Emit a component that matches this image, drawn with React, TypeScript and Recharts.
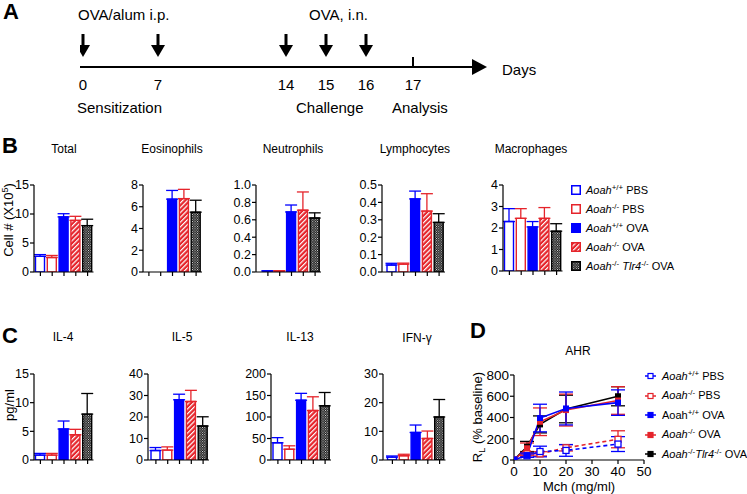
import React from 'react';
import {
  BarChart, Bar, XAxis, YAxis, Cell, ErrorBar,
  LineChart, Line, ScatterChart, Scatter,
} from 'recharts';

const FONT = '"Liberation Sans", Arial, Helvetica, sans-serif';
const BLUE = '#0000ff';
const RED = '#e5242b';
const INK = '#000000';

// ---------------- Panel A : protocol timeline ----------------
const TIMELINE_TICKS = [0, 7, 14, 15, 16, 17];
const INJECTION_DAYS = [0, 7, 14, 15, 16];
const ANALYSIS_DAYS = [17];

// ---------------- groups ----------------
const GROUP_KEYS = ['wtPBS', 'koPBS', 'wtOVA', 'koOVA', 'dkoOVA'];

// ---------------- Panel B : BAL cells (x10^5) ----------------
const TOTAL = [2.7, 2.5, 9.5, 8.9, 8.0];
const TOTAL_SEM = [0.3, 0.35, 0.55, 0.7, 1.1];
const EOS = [0, 0, 6.7, 6.75, 5.5];
const EOS_SEM = [0, 0, 0.8, 0.85, 1.1];
const NEUT = [0.01, 0.01, 0.69, 0.71, 0.62];
const NEUT_SEM = [0.004, 0.004, 0.08, 0.21, 0.06];
const LYMPH = [0.04, 0.045, 0.42, 0.35, 0.285];
const LYMPH_SEM = [0.01, 0.006, 0.045, 0.1, 0.05];
const MACRO = [2.3, 2.45, 2.05, 2.45, 1.85];
const MACRO_SEM = [0.6, 0.45, 0.25, 0.5, 0.35];

// ---------------- Panel C : cytokines (pg/ml) ----------------
const IL4 = [0.85, 0.85, 5.4, 4.4, 8.0];
const IL4_SEM = [0.3, 0.3, 1.4, 0.95, 3.6];
const IL5 = [4.4, 4.6, 28, 27.2, 15.8];
const IL5_SEM = [1.4, 1.5, 2.6, 5.2, 4.3];
const IL13 = [40, 25, 139, 115, 126];
const IL13_SEM = [12, 8, 16, 32, 31];
const IFNG = [1.0, 1.5, 9.6, 7.5, 15];
const IFNG_SEM = [0.4, 0.5, 2.6, 2.6, 6.1];

// ---------------- Panel D : AHR ----------------
const MCH_DOSES = [0, 5, 10, 20, 40];
const AHR_WT_PBS = [0, 40, 80, 90, 150];
const AHR_WT_PBS_SEM = [0, 15, 50, 55, 70];
const AHR_KO_PBS = [0, 60, 58, 115, 195];
const AHR_KO_PBS_SEM = [0, 20, 20, 30, 80];
const AHR_WT_OVA = [0, 45, 395, 485, 540];
const AHR_WT_OVA_SEM = [0, 20, 130, 155, 120];
const AHR_KO_OVA = [0, 110, 360, 470, 560];
const AHR_KO_OVA_SEM = [0, 50, 130, 150, 130];
const AHR_DKO_OVA = [0, 125, 335, 480, 600];
const AHR_DKO_OVA_SEM = [0, 50, 80, 130, 90];

// ---------------- styles ----------------
const GROUP_FILL = ['#ffffff', '#ffffff', BLUE, 'url(#hatchRed)', 'url(#checker)'];
const GROUP_STROKE = [BLUE, RED, BLUE, RED, INK];

type Seg = { t: string; it?: boolean; sup?: boolean };
const B_LEGEND: Seg[][] = [
  [{ t: 'Aoah', it: true }, { t: '+/+', sup: true }, { t: ' PBS' }],
  [{ t: 'Aoah', it: true }, { t: '-/-', sup: true }, { t: ' PBS' }],
  [{ t: 'Aoah', it: true }, { t: '+/+', sup: true }, { t: ' OVA' }],
  [{ t: 'Aoah', it: true }, { t: '-/-', sup: true }, { t: ' OVA' }],
  [{ t: 'Aoah', it: true }, { t: '-/-', sup: true }, { t: ' ' }, { t: 'Tlr4', it: true }, { t: '-/-', sup: true }, { t: ' OVA' }],
];
const D_LEGEND: Seg[][] = [
  [{ t: 'Aoah', it: true }, { t: '+/+', sup: true }, { t: ' PBS' }],
  [{ t: 'Aoah', it: true }, { t: '-/-', sup: true }, { t: ' PBS' }],
  [{ t: 'Aoah' }, { t: '+/+', sup: true }, { t: ' OVA' }],
  [{ t: 'Aoah', it: true }, { t: '-/-', sup: true }, { t: ' OVA' }],
  [{ t: 'Aoah', it: true }, { t: '-/-', sup: true }, { t: 'Tlr4', it: true }, { t: '-/-', sup: true }, { t: ' OVA' }],
];

const AHR_SERIES = [
  { key: 'wtPBS', values: AHR_WT_PBS, sem: AHR_WT_PBS_SEM, color: BLUE, dashed: true, open: true },
  { key: 'koPBS', values: AHR_KO_PBS, sem: AHR_KO_PBS_SEM, color: RED, dashed: true, open: true },
  { key: 'wtOVA', values: AHR_WT_OVA, sem: AHR_WT_OVA_SEM, color: BLUE, dashed: false, open: false },
  { key: 'koOVA', values: AHR_KO_OVA, sem: AHR_KO_OVA_SEM, color: RED, dashed: false, open: false },
  { key: 'dkoOVA', values: AHR_DKO_OVA, sem: AHR_DKO_OVA_SEM, color: INK, dashed: false, open: false },
];
const AHR_DRAW_ORDER = [1, 0, 4, 3, 2];

// ---------------- timeline scale (schematic, non-uniform spacing) ----------------
const TIMELINE_LAYOUT: [number, number][] = [
  [-0.3, 0], [0, 3], [7, 78], [14, 206], [15, 246], [16, 286], [17, 333], [18.9, 392],
];

function createTimelineScale(): any {
  let domain: number[] = [TIMELINE_LAYOUT[0][0], TIMELINE_LAYOUT[TIMELINE_LAYOUT.length - 1][0]];
  let range: number[] = [0, 1];
  const total = TIMELINE_LAYOUT[TIMELINE_LAYOUT.length - 1][1];
  const frac = (v: number) => {
    const L = TIMELINE_LAYOUT;
    if (v <= L[0][0]) return 0;
    if (v >= L[L.length - 1][0]) return 1;
    for (let i = 0; i < L.length - 1; i++) {
      const [d0, p0] = L[i];
      const [d1, p1] = L[i + 1];
      if (v >= d0 && v <= d1) return (p0 + ((v - d0) / (d1 - d0)) * (p1 - p0)) / total;
    }
    return 1;
  };
  const scale: any = (v: any) => range[0] + frac(Number(v)) * (range[1] - range[0]);
  scale.domain = (d?: any) => {
    if (d === undefined) return domain.slice();
    domain = Array.from(d);
    return scale;
  };
  scale.range = (r?: any) => {
    if (r === undefined) return range.slice();
    range = Array.from(r);
    return scale;
  };
  scale.copy = () => createTimelineScale().domain(domain).range(range);
  scale.ticks = () => TIMELINE_TICKS.slice();
  scale.tickFormat = () => (v: any) => String(v);
  scale.nice = () => scale;
  scale.clamp = () => scale;
  scale.invert = (px: number) => {
    const f = (px - range[0]) / (range[1] - range[0] || 1);
    return domain[0] + f * (domain[1] - domain[0]);
  };
  return scale;
}

// ---------------- helpers ----------------
function Rich({ segs }: { segs: Seg[] }) {
  return (
    <>
      {segs.map((s, i) =>
        s.sup ? (
          <span key={i} style={{ fontSize: '0.72em', position: 'relative', top: '-0.5em', fontStyle: 'normal' }}>{s.t}</span>
        ) : (
          <span key={i} style={{ fontStyle: s.it ? 'italic' : 'normal', whiteSpace: 'pre' }}>{s.t}</span>
        ),
      )}
    </>
  );
}

function Txt({ x, capTop, size, children, anchor, bold }: any) {
  return (
    <div
      style={{
        position: 'absolute', left: x, top: capTop - 0.13 * size, fontSize: size,
        lineHeight: `${size}px`, fontWeight: bold ? 'bold' : 'normal', whiteSpace: 'nowrap',
        transform: anchor === 'middle' ? 'translateX(-50%)' : undefined,
      }}
    >
      {children}
    </div>
  );
}

function VTxt({ cx, cy, size, children }: any) {
  return (
    <div
      style={{
        position: 'absolute', left: cx, top: cy, fontSize: size, lineHeight: `${size}px`,
        whiteSpace: 'nowrap', transform: 'translate(-50%, -50%) rotate(-90deg)',
      }}
    >
      {children}
    </div>
  );
}

const BAND = 11.8;
const YW = 30;
const MT = 7;
const XH = 9;

function BarPanel({ axisX, bandStart, top, plotH, values, sems, ticks, digits }: any) {
  const pad = bandStart - axisX;
  const plotW = pad + BAND * values.length;
  const data = values.map((v: number, i: number) => {
    const row: any = { group: GROUP_KEYS[i], value: v };
    if (sems[i] > 0) row['e' + i] = [0, sems[i]];
    return row;
  });
  const width = YW + plotW + 4;
  const height = MT + plotH + XH;
  const axisStyle = { stroke: INK, strokeWidth: 1.2 };
  return (
    <div style={{ position: 'absolute', left: axisX - YW, top: top - MT }}>
      <BarChart width={width} height={height} data={data} margin={{ top: MT, right: 4, bottom: 0, left: 0 }}>
        <XAxis
          dataKey="group" padding={{ left: pad, right: 0 }} tickSize={4} height={XH}
          tickFormatter={() => ''} interval={0} axisLine={axisStyle} tickLine={axisStyle}
        />
        <YAxis
          width={YW} type="number" domain={[ticks[0], ticks[ticks.length - 1]]} ticks={ticks} interval={0}
          allowDataOverflow tickSize={4} tickMargin={1} axisLine={axisStyle} tickLine={axisStyle}
          tick={{ fontSize: 12.5, fill: INK, fontFamily: FONT }}
          tickFormatter={(v: any) => Number(v).toFixed(digits)}
        />
        <Bar dataKey="value" barSize={9} isAnimationActive={false}>
          {values.map((_: number, i: number) => (
            <Cell key={'c' + i} fill={GROUP_FILL[i]} stroke={GROUP_STROKE[i]} strokeWidth={1.4} />
          ))}
          {values.map((_: number, i: number) => (
            <ErrorBar
              key={'e' + i} dataKey={'e' + i} direction="y" width={6}
              stroke={GROUP_STROKE[i]} strokeWidth={1.3} isAnimationActive={false}
            />
          ))}
        </Bar>
      </BarChart>
    </div>
  );
}

function ArrowShape(props: any) {
  const { cx, cy } = props;
  if (cx == null || cy == null) return <g />;
  return (
    <g>
      <rect x={cx - 1.5} y={cy - 33} width={3} height={12} fill={INK} />
      <polygon points={`${cx - 7},${cy - 22} ${cx + 7},${cy - 22} ${cx},${cy - 10}`} fill={INK} />
    </g>
  );
}

function TickShape(props: any) {
  const { cx, cy } = props;
  if (cx == null || cy == null) return <g />;
  return <rect x={cx - 1} y={cy - 10} width={2} height={10} fill={INK} />;
}

function TimelinePanel() {
  const arrows = INJECTION_DAYS.map((d) => ({ day: d, y: 0 }));
  const analysis = ANALYSIS_DAYS.map((d) => ({ day: d, y: 0 }));
  const scale = React.useMemo(() => createTimelineScale(), []);
  return (
    <div style={{ position: 'absolute', left: 0, top: 0 }}>
      <ScatterChart width={520} height={100} margin={{ top: 30, right: 48, bottom: 0, left: 80 }}>
        <XAxis
          type="number" dataKey="day" scale={scale} domain={[-0.3, 18.9]} allowDataOverflow
          ticks={TIMELINE_TICKS} interval={0} height={33} tickSize={0} tickMargin={12} tickLine={false}
          axisLine={{ stroke: INK, strokeWidth: 2.2, markerEnd: 'url(#timeArrow)' }}
          tick={{ fontSize: 15, fill: INK, fontFamily: FONT }}
        />
        <YAxis type="number" dataKey="y" domain={[0, 1]} hide width={0} />
        <Scatter data={arrows} shape={ArrowShape} isAnimationActive={false} />
        <Scatter data={analysis} shape={TickShape} isAnimationActive={false} />
      </ScatterChart>
    </div>
  );
}

function AhrPanel() {
  const data = MCH_DOSES.map((x, j) => {
    const row: any = { mch: x };
    AHR_SERIES.forEach((s) => {
      row[s.key] = s.values[j];
      if (s.sem[j] > 0) row[s.key + 'Err'] = s.sem[j];
    });
    return row;
  });
  const axisStyle = { stroke: INK, strokeWidth: 1.2 };
  const dyw = 40;
  return (
    <div style={{ position: 'absolute', left: 514 - dyw, top: 375 - 8 }}>
      <LineChart width={dyw + 130 + 12} height={8 + 85 + 22} data={data} margin={{ top: 8, right: 12, bottom: 0, left: 0 }}>
        <XAxis
          type="number" dataKey="mch" domain={[0, 50]} ticks={[0, 10, 20, 30, 40, 50]} interval={0}
          allowDataOverflow height={22} tickSize={4} tickMargin={2} axisLine={axisStyle} tickLine={axisStyle}
          tick={{ fontSize: 13.5, fill: INK, fontFamily: FONT }}
        />
        <YAxis
          type="number" width={dyw} domain={[0, 800]} ticks={[0, 200, 400, 600, 800]} interval={0}
          allowDataOverflow tickSize={4} tickMargin={1} axisLine={axisStyle} tickLine={axisStyle}
          tick={{ fontSize: 13.5, fill: INK, fontFamily: FONT }}
        />
        {AHR_DRAW_ORDER.map((idx) => {
          const s = AHR_SERIES[idx];
          return (
            <Line
              key={s.key} dataKey={s.key} type="linear" stroke={s.color} strokeWidth={1.6}
              strokeDasharray={s.dashed ? '4 3' : undefined} isAnimationActive={false} activeDot={false}
              dot={(p: any) => (
                <rect
                  key={`${s.key}-${p.index}`} x={p.cx - 3} y={p.cy - 3} width={6} height={6}
                  fill={s.open ? '#ffffff' : s.color} stroke={s.color} strokeWidth={s.open ? 1.3 : 0}
                />
              )}
            >
              <ErrorBar dataKey={s.key + 'Err'} direction="y" width={7} stroke={s.color} strokeWidth={1.3} isAnimationActive={false} />
            </Line>
          );
        })}
      </LineChart>
    </div>
  );
}

function BLegend() {
  const rows = [190, 209.3, 228.3, 247.3, 266];
  return (
    <>
      {B_LEGEND.map((segs, i) => (
        <React.Fragment key={i}>
          <svg style={{ position: 'absolute', left: 571, top: rows[i] - 5 }} width={10} height={10}>
            <rect x={0.75} y={0.75} width={8.5} height={8.5} fill={GROUP_FILL[i]} stroke={GROUP_STROKE[i]} strokeWidth={1.5} />
          </svg>
          <Txt x={586} capTop={rows[i] - 0.358 * 11} size={11}><Rich segs={segs} /></Txt>
        </React.Fragment>
      ))}
    </>
  );
}

function DLegend() {
  const rows = [376, 395.5, 415, 434.5, 454];
  return (
    <>
      {D_LEGEND.map((segs, i) => {
        const s = AHR_SERIES[i];
        return (
          <React.Fragment key={i}>
            <svg style={{ position: 'absolute', left: 645, top: rows[i] - 4 }} width={12} height={8}>
              <line x1={0} y1={4} x2={11} y2={4} stroke={s.color} strokeWidth={1.5} />
              <rect x={3} y={1.5} width={5} height={5} fill={s.open ? '#fff' : s.color} stroke={s.color} strokeWidth={1.2} />
            </svg>
            <Txt x={662} capTop={rows[i] - 0.358 * 11} size={11}><Rich segs={segs} /></Txt>
          </React.Fragment>
        );
      })}
    </>
  );
}

export default function App() {
  return (
    <div
      style={{
        position: 'absolute', left: 0, top: 0, width: 747, height: 494, background: '#fff',
        overflow: 'hidden', fontFamily: FONT, color: INK,
      }}
    >
      <svg width={0} height={0} style={{ position: 'absolute' }}>
        <defs>
          <pattern id="hatchRed" patternUnits="userSpaceOnUse" width={3.4} height={3.4} patternTransform="rotate(45)">
            <rect width={3.4} height={3.4} fill={RED} />
            <rect width={1.2} height={3.4} fill="#ffffff" />
          </pattern>
          <pattern id="checker" patternUnits="userSpaceOnUse" width={2.4} height={2.4}>
            <rect width={2.4} height={2.4} fill="#111111" />
            <rect x={0} y={0} width={0.9} height={0.9} fill="#ffffff" />
            <rect x={1.2} y={1.2} width={0.9} height={0.9} fill="#ffffff" />
          </pattern>
          <marker id="timeArrow" markerUnits="userSpaceOnUse" markerWidth={16} markerHeight={16} refX={0} refY={8} orient="auto">
            <path d="M0,0 L15,8 L0,16 Z" fill={INK} />
          </marker>
        </defs>
      </svg>

      {/* Panel A */}
      <Txt x={3} capTop={4} size={22} bold>A</Txt>
      <Txt x={78} capTop={9} size={15}>OVA/alum i.p.</Txt>
      <Txt x={309} capTop={9} size={15}>OVA, i.n.</Txt>
      <TimelinePanel />
      <Txt x={502} capTop={64} size={15}>Days</Txt>
      <Txt x={77} capTop={102} size={15}>Sensitization</Txt>
      <Txt x={296} capTop={102} size={15}>Challenge</Txt>
      <Txt x={392} capTop={102} size={15}>Analysis</Txt>

      {/* Panel B */}
      <Txt x={2} capTop={138} size={22} bold>B</Txt>
      <Txt x={64} capTop={145} size={12} anchor="middle">Total</Txt>
      <Txt x={172} capTop={145} size={12} anchor="middle">Eosinophils</Txt>
      <Txt x={293} capTop={145} size={12} anchor="middle">Neutrophils</Txt>
      <Txt x={415} capTop={145} size={12} anchor="middle">Lymphocytes</Txt>
      <Txt x={531} capTop={145} size={12} anchor="middle">Macrophages</Txt>
      <VTxt cx={9} cy={220} size={13}>Cell # (X10<span style={{ fontSize: '0.7em', position: 'relative', top: '-0.5em' }}>5</span>)</VTxt>
      <BarPanel axisX={34} bandStart={34.5} top={185} plotH={87} values={TOTAL} sems={TOTAL_SEM} ticks={[0, 5, 10, 15]} digits={0} />
      <BarPanel axisX={143} bandStart={143} top={185} plotH={87} values={EOS} sems={EOS_SEM} ticks={[0, 2, 4, 6, 8]} digits={0} />
      <BarPanel axisX={256} bandStart={262} top={185} plotH={87} values={NEUT} sems={NEUT_SEM} ticks={[0, 0.2, 0.4, 0.6, 0.8, 1.0]} digits={1} />
      <BarPanel axisX={382} bandStart={386} top={185} plotH={87} values={LYMPH} sems={LYMPH_SEM} ticks={[0, 0.1, 0.2, 0.3, 0.4, 0.5]} digits={1} />
      <BarPanel axisX={502.5} bandStart={503} top={185} plotH={86} values={MACRO} sems={MACRO_SEM} ticks={[0, 1, 2, 3, 4]} digits={0} />
      <BLegend />

      {/* Panel C */}
      <Txt x={2} capTop={328} size={22} bold>C</Txt>
      <Txt x={63} capTop={333} size={12} anchor="middle">IL-4</Txt>
      <Txt x={182} capTop={333} size={12} anchor="middle">IL-5</Txt>
      <Txt x={300} capTop={333} size={12} anchor="middle">IL-13</Txt>
      <Txt x={417} capTop={334} size={12} anchor="middle">IFN-γ</Txt>
      <VTxt cx={9} cy={405} size={13}>pg/ml</VTxt>
      <BarPanel axisX={34} bandStart={34.5} top={374} plotH={86} values={IL4} sems={IL4_SEM} ticks={[0, 5, 10, 15]} digits={0} />
      <BarPanel axisX={148} bandStart={150} top={374} plotH={86} values={IL5} sems={IL5_SEM} ticks={[0, 10, 20, 30, 40]} digits={0} />
      <BarPanel axisX={270.5} bandStart={271.5} top={374} plotH={86} values={IL13} sems={IL13_SEM} ticks={[0, 50, 100, 150, 200]} digits={0} />
      <BarPanel axisX={383} bandStart={386.5} top={374} plotH={86} values={IFNG} sems={IFNG_SEM} ticks={[0, 10, 20, 30]} digits={0} />

      {/* Panel D */}
      <Txt x={470} capTop={323} size={22} bold>D</Txt>
      <Txt x={578} capTop={347} size={12} anchor="middle">AHR</Txt>
      <VTxt cx={478} cy={417} size={13}>R<span style={{ fontSize: '0.7em', position: 'relative', top: '0.35em' }}>L</span> (% baseline)</VTxt>
      <AhrPanel />
      <Txt x={579} capTop={482} size={13} anchor="middle">Mch (mg/ml)</Txt>
      <DLegend />
    </div>
  );
}
